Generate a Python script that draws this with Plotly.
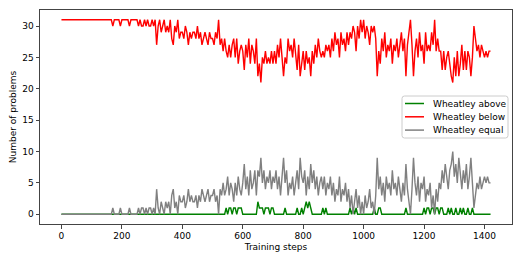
import plotly.graph_objects as go

# Training steps (sampled every 5 steps)
steps = list(range(0, 1425, 5))

# Number of problems where Wheatley scored equal
equal = (
    [0] * 20 +
    [0, 0, 0, 0, 0, 0, 0, 0, 0, 0, 0, 0, 0, 0, 1, 0, 0, 0, 0, 1] +
    [0, 0, 0, 0, 0, 1, 0, 0, 0, 0, 0, 1, 0, 1, 1, 0, 1, 0, 1, 1] +
    [0, 1, 0, 4, 1, 0, 2, 1, 0, 2, 1, 2, 0, 3, 4, 1, 2, 0, 3, 2] +
    [2, 3, 1, 2, 4, 2, 3, 2, 2, 3, 1, 3, 2, 4, 3, 2, 3, 4, 2, 3] +
    [3, 4, 2, 3, 0, 4, 3, 5, 3, 4, 6, 3, 5, 4, 2, 5, 3, 6, 4, 3] +
    [5, 8, 4, 6, 3, 7, 4, 5, 7, 3, 7, 6, 9, 5, 7, 4, 6, 5, 7, 4] +
    [6, 5, 7, 4, 6, 3, 6, 9, 5, 7, 3, 5, 4, 6, 3, 5, 7, 4, 9, 6] +
    [5, 7, 3, 6, 4, 8, 5, 7, 4, 6, 3, 5, 6, 4, 6, 3, 5, 4, 6, 3] +
    [5, 2, 4, 3, 6, 2, 4, 3, 5, 2, 4, 1, 3, 0, 2, 4, 1, 3, 0, 2] +
    [0, 3, 1, 2, 4, 1, 2, 0, 3, 9, 4, 6, 3, 5, 2, 6, 4, 5, 3, 7] +
    [4, 5, 3, 6, 4, 2, 5, 3, 8, 4, 2, 0, 4, 9, 5, 3, 6, 2, 5, 4] +
    [6, 2, 4, 3, 5, 1, 3, 0, 4, 2, 5, 4, 7, 5, 8, 6, 4, 7, 8, 10] +
    [6, 8, 5, 9, 6, 4, 7, 5, 8, 4, 6, 9, 5, 1, 3, 5, 4, 6, 4, 5] +
    [6, 5, 6, 5, 5]
)

# Number of problems where Wheatley scored above
above = (
    [0] * 100 +
    [0, 0, 0, 0, 0, 0, 0, 0, 0, 1, 0, 1, 1, 0, 1, 1, 0, 1, 1, 1] +
    [0, 0, 0, 0, 0, 0, 0, 0, 0, 0, 2, 1, 1, 1, 0, 1, 1, 1, 0, 1] +
    [1, 0, 0, 0, 0, 0, 0, 0, 1, 0, 0, 0, 0, 0, 0, 0, 1, 0, 0, 1] +
    [0, 1, 2, 1, 2, 1, 0, 0, 0, 0, 0, 0, 0, 1, 0, 1, 0, 0, 0, 0] +
    [0, 0, 0, 0, 0, 0, 0, 0, 0, 0, 0, 1, 0, 1, 0, 1, 0, 0, 0, 0] +
    [0, 0, 0, 0, 0, 0, 0, 1, 0, 0, 1, 1, 0, 0, 0, 0, 0, 0, 0, 0] +
    [0, 0, 0, 0, 0, 0, 0, 0, 1, 0, 0, 0, 0, 0, 0, 0, 0, 0, 0, 0] +
    [1, 0, 1, 1, 0, 1, 1, 0, 1, 1, 0, 1, 1, 0, 0, 0, 1, 0, 1, 0] +
    [0, 1, 0, 0, 1, 0, 1, 0, 0, 1, 0, 0, 1, 0, 0, 0, 0, 0, 0, 0] +
    [0, 0, 0, 0, 0]
)

# Number of problems where Wheatley scored below
below = (
    [31] * 20 +
    [31, 31, 31, 31, 31, 31, 31, 31, 31, 31, 31, 31, 31, 31, 30, 31, 31, 31, 31, 30] +
    [31, 31, 31, 31, 31, 30, 31, 31, 31, 31, 31, 30, 31, 30, 30, 31, 30, 31, 30, 30] +
    [31, 30, 31, 27, 30, 31, 29, 30, 31, 29, 30, 29, 31, 28, 27, 30, 29, 31, 28, 29] +
    [29, 28, 30, 29, 27, 29, 28, 29, 29, 28, 30, 28, 29, 27, 28, 29, 28, 27, 29, 28] +
    [28, 27, 29, 28, 31, 27, 28, 26, 28, 26, 25, 27, 25, 27, 28, 25, 28, 24, 26, 27] +
    [26, 23, 27, 25, 28, 24, 27, 26, 24, 28, 22, 24, 21, 25, 24, 26, 24, 25, 24, 26] +
    [24, 26, 24, 27, 25, 28, 25, 22, 25, 24, 28, 26, 27, 25, 28, 26, 23, 27, 22, 24] +
    [26, 23, 26, 24, 25, 22, 26, 24, 27, 25, 28, 26, 25, 26, 25, 27, 26, 27, 25, 28] +
    [26, 29, 27, 28, 25, 29, 27, 28, 26, 29, 27, 29, 28, 30, 29, 26, 30, 28, 31, 29] +
    [31, 28, 30, 29, 27, 30, 29, 30, 28, 22, 26, 24, 28, 26, 29, 25, 27, 26, 28, 24] +
    [27, 26, 28, 25, 27, 29, 26, 28, 22, 27, 29, 31, 27, 22, 26, 28, 25, 29, 26, 27] +
    [24, 29, 26, 27, 26, 29, 27, 31, 26, 28, 26, 26, 23, 26, 23, 25, 26, 24, 22, 21] +
    [25, 22, 26, 22, 24, 27, 23, 26, 23, 26, 25, 22, 25, 30, 28, 26, 27, 25, 27, 26] +
    [25, 26, 25, 26, 26]
)

series_names = ["Wheatley above", "Wheatley below", "Wheatley equal"]
series_colors = ["#008000", "#ff0000", "#808080"]

x_ticks = [0, 200, 400, 600, 800, 1000, 1200, 1400]
y_ticks = [0, 5, 10, 15, 20, 25, 30]

FONT = "DejaVu Sans"
W, H = 523, 262
ML, MR, MT, MB = 40, 11, 10, 38
PW, PH = W - ML - MR, H - MT - MB


def px(xp):
    return (xp - ML) / PW


def py(yp):
    return (H - MB - yp) / PH


fig = go.Figure()
for name, vals, col in zip(series_names, [above, below, equal], series_colors):
    fig.add_trace(go.Scatter(x=steps, y=vals, mode="lines", name=name,
                             line=dict(color=col, width=1.4),
                             showlegend=False))

axis_common = dict(
    showgrid=False, zeroline=False, showline=True, mirror=True,
    linecolor="#444444", linewidth=1, ticks="outside", ticklen=3.5,
    tickwidth=1, tickcolor="#444444",
    tickfont=dict(family=FONT, size=9, color="#000000"),
)

# Custom legend (box, line samples, labels) in paper coordinates
lx0, lx1, ly0, ly1, r = 402, 508, 96, 138, 2.5
rx, ry = r / PW, r / PH
X0, X1, Y0, Y1 = px(lx0), px(lx1), py(ly1), py(ly0)
box_path = (
    f"M {X0 + rx},{Y0} L {X1 - rx},{Y0} Q {X1},{Y0} {X1},{Y0 + ry} "
    f"L {X1},{Y1 - ry} Q {X1},{Y1} {X1 - rx},{Y1} "
    f"L {X0 + rx},{Y1} Q {X0},{Y1} {X0},{Y1 - ry} "
    f"L {X0},{Y0 + ry} Q {X0},{Y0} {X0 + rx},{Y0} Z"
)
shapes = [dict(type="path", xref="paper", yref="paper", path=box_path,
               fillcolor="rgba(255,255,255,0.8)", line=dict(color="#cccccc", width=1))]
annotations = []
row_y = [103.5, 116.8, 130.1]
for name, col, yy in zip(series_names, series_colors, row_y):
    shapes.append(dict(type="line", xref="paper", yref="paper",
                       x0=px(405), x1=px(424), y0=py(yy), y1=py(yy),
                       line=dict(color=col, width=1.5)))
    annotations.append(dict(xref="paper", yref="paper", x=px(430.5), y=py(yy),
                            text=name, showarrow=False, xanchor="left", yanchor="middle",
                            font=dict(family=FONT, size=9, color="#000000")))

fig.update_layout(
    width=W, height=H,
    margin=dict(l=ML, r=MR, t=MT, b=MB),
    paper_bgcolor="white", plot_bgcolor="white",
    font=dict(family=FONT, size=9, color="#000000"),
    xaxis=dict(range=[-71, 1491], tickvals=x_ticks,
               title=dict(text="Training steps", font=dict(family=FONT, size=9), standoff=3),
               **axis_common),
    yaxis=dict(range=[-1.55, 32.55], tickvals=y_ticks,
               title=dict(text="Number of problems", font=dict(family=FONT, size=9), standoff=4),
               **axis_common),
    shapes=shapes,
    annotations=annotations,
    showlegend=False,
)

fig.write_html("out.html", config={"displayModeBar": False},
               post_script="document.body.style.margin='0';document.body.style.padding='0';")
